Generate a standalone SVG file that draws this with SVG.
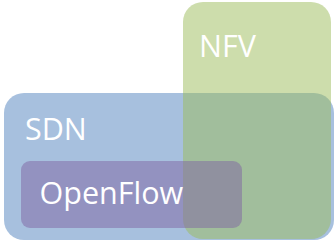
<svg xmlns="http://www.w3.org/2000/svg" width="335" height="242" viewBox="0 0 335 242">
<style>
.lbl{font-family:"Open Sans","Noto Sans",sans-serif;font-size:30.5px;fill:#ffffff}
</style>
<rect width="335" height="242" fill="#ffffff"/>
<g id="sdn">
<rect x="4" y="93" width="330" height="147" rx="20" fill="#4f81bd" fill-opacity="0.5"/>
<text class="lbl" x="25" y="140">SDN</text>
</g>
<g id="nfv">
<rect x="183" y="2" width="148" height="237" rx="20" fill="#9bbb59" fill-opacity="0.5"/>
<text class="lbl" x="199" y="57">NFV</text>
</g>
<g id="openflow">
<rect x="21" y="161" width="221" height="67" rx="9" fill="#8064a2" fill-opacity="0.5"/>
<text class="lbl" x="39.5" y="203.5">OpenFlow</text>
</g>
<g id="connectors"/>
</svg>
